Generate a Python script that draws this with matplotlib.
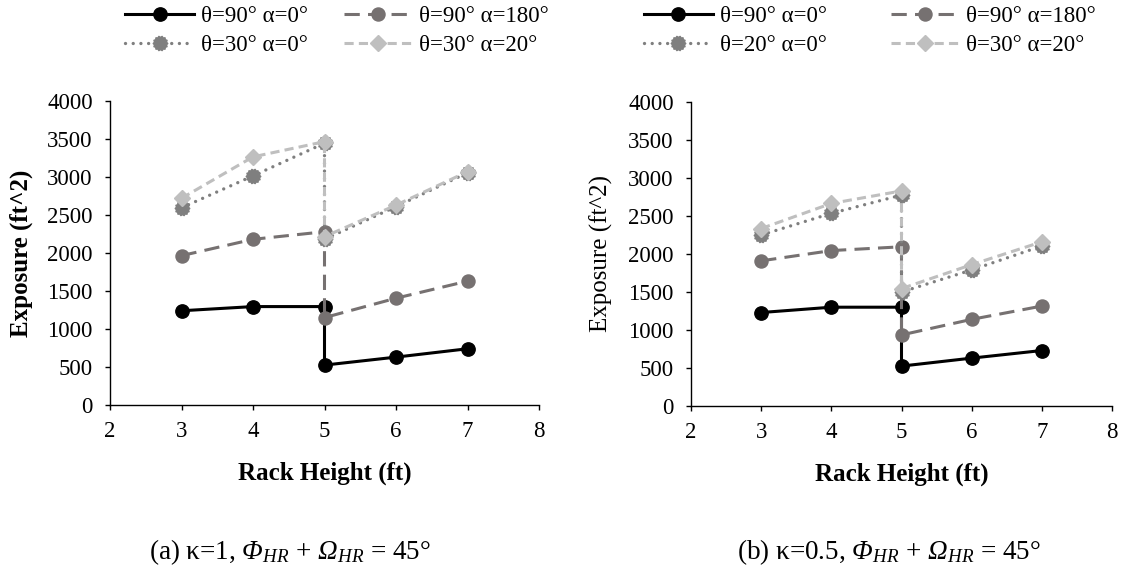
import matplotlib
matplotlib.use("Agg")
import matplotlib.pyplot as plt
import numpy as np
from matplotlib.path import Path

# ---------------- data ----------------
heights = [3, 4, 5, 5, 6, 7]

# (a) kappa = 1
a_t90_a0 = [1240, 1295, 1295, 525, 630, 740]
a_t90_a180 = [1965, 2180, 2280, 1150, 1405, 1630]
a_t30_a0 = [2595, 3015, 3445, 2180, 2610, 3055]
a_t30_a20 = [2720, 3265, 3465, 2215, 2630, 3070]
a_labels = ["θ=90° α=0°", "θ=90° α=180°", "θ=30° α=0°", "θ=30° α=20°"]

# (b) kappa = 0.5
b_t90_a0 = [1230, 1300, 1300, 525, 630, 730]
b_t90_a180 = [1910, 2045, 2095, 935, 1140, 1315]
b_t20_a0 = [2250, 2535, 2775, 1500, 1790, 2105]
b_t30_a20 = [2335, 2665, 2830, 1545, 1860, 2160]
b_labels = ["θ=90° α=0°", "θ=90° α=180°", "θ=20° α=0°", "θ=30° α=20°"]

xticks = [2, 3, 4, 5, 6, 7, 8]
yticks = [0, 500, 1000, 1500, 2000, 2500, 3000, 3500, 4000]

captions = [r"(a) κ=1, $\mathsf{Φ}_{HR}$ + $\mathsf{Ω}_{HR}$ = 45°",
            r"(b) κ=0.5, $\mathsf{Φ}_{HR}$ + $\mathsf{Ω}_{HR}$ = 45°"]

# ---------------- style ----------------
plt.rcParams['font.family'] = ['Liberation Serif', 'DejaVu Serif']
plt.rcParams['mathtext.fontset'] = 'custom'
plt.rcParams['mathtext.rm'] = 'Liberation Serif'
plt.rcParams['mathtext.it'] = 'Liberation Serif:italic'
plt.rcParams['mathtext.sf'] = 'Liberation Serif:italic'
plt.rcParams['mathtext.bf'] = 'Liberation Serif:bold'

W, H = 1123, 573
fig = plt.figure(figsize=(W / 100, H / 100), dpi=100)

# jagged round marker (circle with dotted outline look)
n = 14
ang = np.linspace(0, 2 * np.pi, 2 * n, endpoint=False)
rad = np.where(np.arange(2 * n) % 2 == 0, 1.0, 0.84)
verts = np.column_stack([rad * np.cos(ang), rad * np.sin(ang)])
verts = np.vstack([verts, verts[:1]])
jagged = Path(verts, [Path.MOVETO] + [Path.LINETO] * (2 * n - 1) + [Path.CLOSEPOLY])

styles = [
    dict(color='#000000', lw=2.2, ls='-', marker='o', ms=9.6, zorder=3),
    dict(color='#767171', lw=2.2, ls=(0, (5, 2.7)), marker='o', ms=9.4, zorder=4),
    dict(color='#7F7F7F', lw=2.4, ls=(0, (0.01, 2.3)), marker=jagged, ms=10.5,
         zorder=5, dash_capstyle='round'),
    dict(color='#BFBFBF', lw=2.2, ls=(0, (3, 1.7)), marker='D', ms=7.8, zorder=6),
]

def draw(rect, series, labels, ylabel_bold, ylab_x, leg_center, colspace, caption, cap_x):
    ax = fig.add_axes(rect)
    lines = []
    for vals, st, lab in zip(series, styles, labels):
        st = dict(st)
        c = st.pop('color')
        ln, = ax.plot(heights, vals, color=c, markerfacecolor=c, markeredgecolor=c,
                      label=lab, clip_on=False, **st)
        lines.append(ln)
    ax.set_xlim(2, 8)
    ax.set_ylim(0, 4000)
    ax.set_xticks(xticks)
    ax.set_yticks(yticks)
    for s in ['top', 'right']:
        ax.spines[s].set_visible(False)
    for s in ['left', 'bottom']:
        ax.spines[s].set_linewidth(1.0)
    ax.tick_params(axis='both', direction='out', length=3.5, width=1.0, labelsize=16.5)
    ax.tick_params(axis='x', pad=8)
    ax.tick_params(axis='y', pad=9)
    ax.set_xlabel("Rack Height (ft)", fontsize=18, fontweight='bold')
    ax.xaxis.set_label_coords(0.5, -0.185)
    ax.set_ylabel("Exposure (ft^2)", fontsize=18,
                  fontweight='bold' if ylabel_bold else 'normal')
    ax.yaxis.set_label_coords(ylab_x, 0.5)
    order = [0, 2, 1, 3]
    fig.legend([lines[i] for i in order], [labels[i] for i in order],
               loc='center', bbox_to_anchor=(leg_center[0] / W, 1 - leg_center[1] / H),
               ncol=2, frameon=False, fontsize=16.5, handlelength=3.0,
               handletextpad=0.3, columnspacing=colspace, labelspacing=0.33,
               borderpad=0, borderaxespad=0)
    fig.text(cap_x / W, 1 - 552 / H, caption, ha='center', va='center', fontsize=19.5)
    return ax

draw([110 / W, 1 - 405 / H, 429 / W, 304 / H],
     [a_t90_a0, a_t90_a180, a_t30_a0, a_t30_a20], a_labels, True, -0.18,
     (337, 31), 1.56, captions[0], 290)
draw([691 / W, 1 - 406 / H, 421 / W, 304 / H],
     [b_t90_a0, b_t90_a180, b_t20_a0, b_t30_a20], b_labels, False, -0.185,
     (870, 31), 2.8, captions[1], 889)

fig.savefig("out.png", dpi=100)
